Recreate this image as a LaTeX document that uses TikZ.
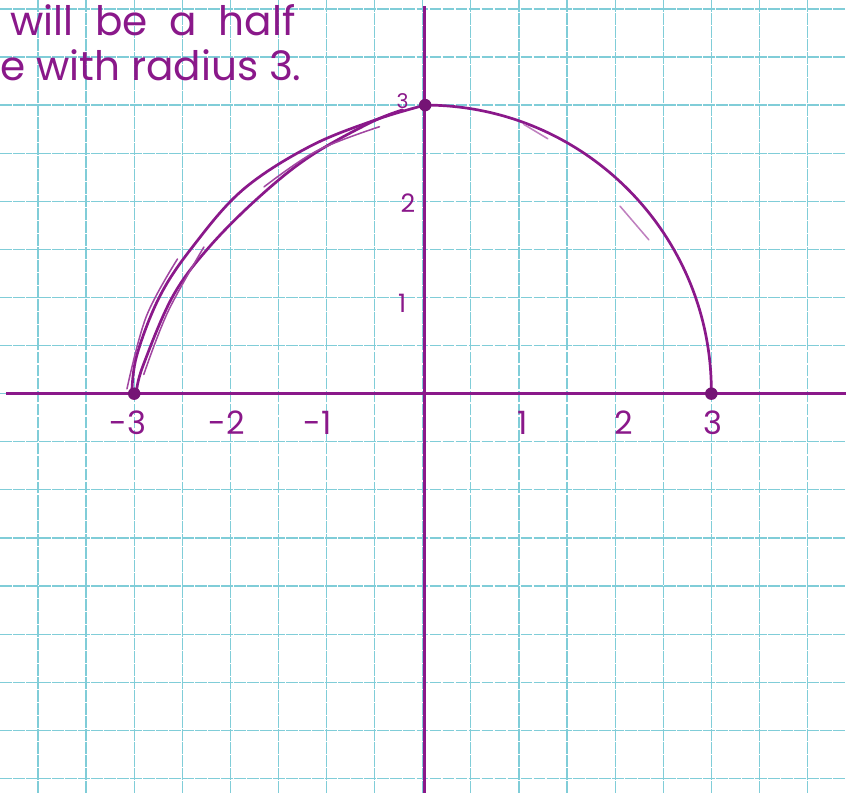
\documentclass[tikz,border=0pt]{standalone}
\usepackage{fontspec}
\setmainfont{Poppins}
\definecolor{gridc}{RGB}{128,205,216}
\definecolor{purp}{RGB}{138,24,138}
\tikzset{
  gridline/.style={gridc, line width=0.75pt, dash pattern=on 7pt off 0.7pt},
  axisline/.style={purp, line width=1.7pt},
  curve/.style={purp, line width=1.6pt, line cap=round},
  sketch/.style={purp!80, line width=0.9pt, line cap=round},
  dot/.style={circle, fill=purp!85!black, inner sep=0pt, minimum size=0.26cm},
  tick/.style={purp, font=\fontsize{19}{20}\selectfont, inner sep=0pt},
  note/.style={purp, font=\fontsize{24}{26}\selectfont, inner sep=0pt, anchor=base west}
}
\begin{document}
\begin{tikzpicture}[x=1cm,y=1cm]
\useasboundingbox (-8.79,-8.30) rectangle (8.80,8.185);
\fill[white] (-8.79,-8.30) rectangle (8.80,8.185);
% grid
\foreach \k in {-8,...,8} {
  \draw[gridline] (\k,-8.30) -- (\k,8.185);
  \draw[gridline] (-8.79,\k) -- (8.80,\k);
}
% text
\node[note] (t1) at (-8.58,7.44) {will\ \ be\ \ a\ \ half};
\node[note] (t2) at (-8.79,6.52) {e with radius 3.};
% axes
\coordinate (xl) at (-8.67,0);
\coordinate (xr) at (8.80,0);
\coordinate (yt) at (0.04,8.06);
\coordinate (yb) at (0.04,-8.30);
\draw[axisline] (xl) -- (xr);
\draw[axisline] (yt) -- (yb);
% points
\coordinate (A) at (-6,0);
\coordinate (B) at (0.05,6);
\coordinate (C) at (6,0);
% left arc (hand drawn, several strokes)
\draw[curve] plot[smooth, tension=0.6] coordinates {(-6.05,-0.05) (-5.95,0.78) (-5.47,2.02) (-4.78,3.06) (-3.74,4.24) (-2.35,5.14) (-0.96,5.70) (0.05,6)};
\draw[curve] plot[smooth, tension=0.6] coordinates {(-5.95,0.05) (-5.82,0.57) (-5.2,2.02) (-4.43,3.06) (-3.39,4.1) (-2.35,4.93) (-1.1,5.63) (-0.42,5.9)};
\draw[sketch] plot[smooth, tension=0.6] coordinates {(-6.15,0.1) (-5.75,1.6) (-5.1,2.8)};
\draw[sketch] plot[smooth, tension=0.6] coordinates {(-5.8,0.4) (-5.3,1.7) (-4.55,3.05)};
\draw[sketch] plot[smooth, tension=0.6] coordinates {(-3.3,4.3) (-2.2,5.05) (-0.9,5.55)};
% right arc
\draw[curve] (B) arc[start angle=90, end angle=0, radius=5.95];
\draw[sketch, purp!55] (2.1,5.6) -- (2.6,5.3);
\draw[sketch, purp!55] (4.1,3.9) -- (4.7,3.2);
% dots
\node[dot] (dA) at (A) {};
\node[dot] (dB) at (B) {};
\node[dot] (dC) at (C) {};
% x labels
\node[tick] (lm3) at (-6.13,-0.61) {-3};
\node[tick] (lm2) at (-4.07,-0.61) {-2};
\node[tick] (lm1) at (-2.18,-0.61) {-1};
\node[tick] (lp1) at (2.08,-0.61) {1};
\node[tick] (lp2) at (4.18,-0.61) {2};
\node[tick] (lp3) at (6.03,-0.61) {3};
% y labels
\node[tick, font=\fontsize{15}{16}\selectfont] (ly1) at (-0.43,1.88) {1};
\node[tick, font=\fontsize{15}{16}\selectfont] (ly2) at (-0.31,3.96) {2};
\node[tick, font=\fontsize{12}{13}\selectfont] (ly3) at (-0.42,6.08) {3};
\end{tikzpicture}
\end{document}
